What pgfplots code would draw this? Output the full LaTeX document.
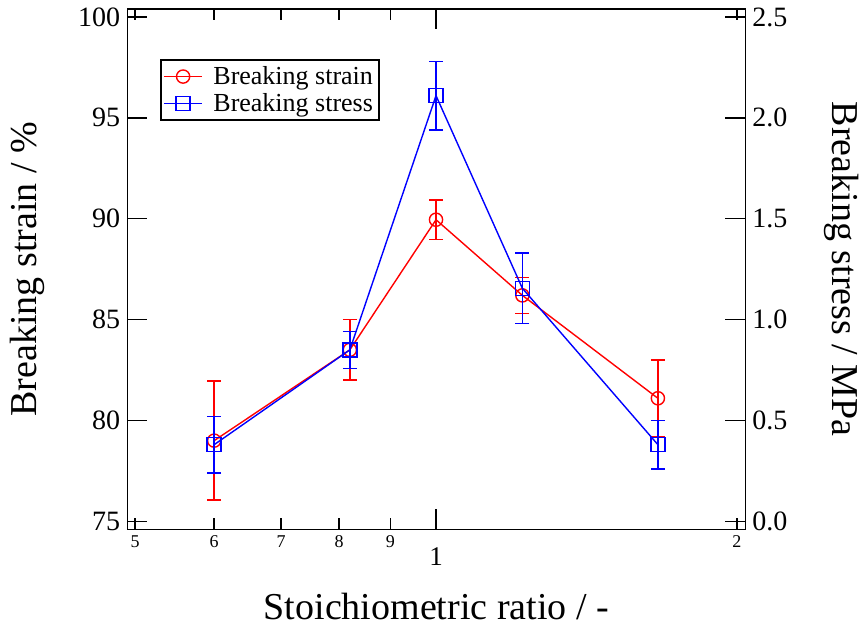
\documentclass[border=0pt]{standalone}
\usepackage{fontspec}
\setmainfont{Liberation Serif}
\usepackage{pgfplots}
\usepackage{pgfplotstable}
\pgfplotsset{compat=1.18}

% x: stoichiometric ratio, y: value, e: standard deviation
\pgfplotstableread{
x      y      e
0.6    79.0   2.95
0.82   83.5   1.5
1      89.95  0.98
1.22   86.2   0.9
1.667  81.1   1.9
}\strain
\pgfplotstableread{
x      y      e
0.6    0.38   0.14
0.82   0.85   0.092
1      2.11   0.17
1.22   1.155  0.175
1.667  0.38   0.12
}\stress

\definecolor{strainred}{RGB}{255,0,0}
\definecolor{stressblue}{RGB}{0,0,255}

\begin{document}
\begin{tikzpicture}
\begin{axis}[
  scale only axis, width=309pt, height=260.25pt,
  xmode=log, xmin=0.4912, xmax=2.0385,
  axis line style={line width=0.75pt},
  tick style={black, line width=0.75pt},
  tick align=inside,
  major tick length=10pt,
  /pgf/number format/assume math mode=true,
  yticklabel style={font=\fontsize{14}{14}\selectfont},
  label style={font=\fontsize{19}{19}\selectfont},
  clip=false,
  ymin=74.6, ymax=100.4,
  ytick={75,80,...,100},
  ytick pos=left,
  xtick={1}, xticklabels={1},
  minor xtick={},
  xticklabel style={font=\fontsize{13.5}{13.5}\selectfont, inner ysep=9pt},
  extra x ticks={0.5,0.6,0.7,0.8,0.9,2},
  extra x tick labels={5,6,7,8,9,2},
  extra x tick style={major tick length=5.5pt,
    xticklabel style={font=\fontsize{9}{9}\selectfont, inner ysep=3pt}},
  xlabel={Stoichiometric ratio / -},
  xlabel style={at={(axis description cs:0.5,-0.149)}, anchor=center},
  ylabel={Breaking strain / \%},
  ylabel style={at={(axis description cs:-0.1615,0.5)}, anchor=center, rotate=0},
]
\addplot[strainred, line width=0.7pt, mark=o, mark size=3.3pt,
  mark options={fill=white, solid},
  error bars/.cd, y dir=both, y explicit,
  error bar style={line width=0.7pt},
  error mark options={rotate=90, mark size=3.5pt, line width=0.7pt}]
  table[x=x, y=y, y error=e] {\strain};
\coordinate (bbSW) at (axis description cs:-0.206,-0.1914);
\coordinate (bbNE) at (axis description cs:1.1856,1.0171);
\end{axis}

\begin{axis}[
  scale only axis, width=309pt, height=260.25pt,
  xmode=log, xmin=0.4912, xmax=2.0385,
  axis line style={line width=0.75pt},
  tick style={black, line width=0.75pt},
  tick align=inside,
  major tick length=10pt,
  /pgf/number format/assume math mode=true,
  yticklabel style={font=\fontsize{14}{14}\selectfont},
  label style={font=\fontsize{19}{19}\selectfont},
  clip=false,
  hide x axis,
  ymin=-0.04, ymax=2.54,
  ytick={0,0.5,...,2.5},
  ytick pos=right, yticklabel pos=right,
  yticklabel style={/pgf/number format/.cd, fixed, fixed zerofill, precision=1},
  ylabel={Breaking stress / MPa},
  ylabel style={at={(axis description cs:1.1565,0.5)}, anchor=center, rotate=180},
  legend style={at={(axis description cs:0.0534,0.9032)}, anchor=north west,
    draw=black, line width=0.75pt, fill=white,
    font=\fontsize{13}{13}\selectfont,
    inner xsep=1pt, inner ysep=1pt, row sep=-1pt,
    cells={anchor=west}},
  legend image code/.code={
    \draw[mark repeat=2, mark phase=2, #1]
      plot coordinates {(0cm,0cm) (0.34cm,0cm) (0.68cm,0cm)};
    \path (0.79cm,0cm);},
]
\addlegendimage{strainred, line width=0.7pt, mark=o, mark size=3.3pt,
  mark options={fill=white, solid}}
\addlegendentry{Breaking strain}
\addplot[stressblue, line width=0.7pt, mark=square, mark size=3.5pt,
  mark options={fill=white, solid},
  error bars/.cd, y dir=both, y explicit,
  error bar style={line width=0.7pt},
  error mark options={rotate=90, mark size=3.5pt, line width=0.7pt}]
  table[x=x, y=y, y error=e] {\stress};
\addlegendentry{Breaking stress}
\end{axis}
\pgfresetboundingbox
\useasboundingbox (bbSW) rectangle (bbNE);
\end{tikzpicture}
\end{document}
